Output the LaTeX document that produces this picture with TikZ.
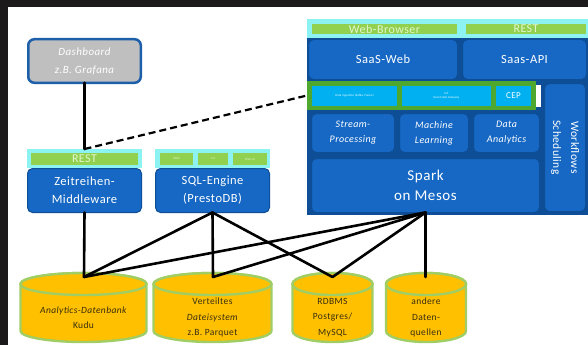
\documentclass[tikz,border=0pt]{standalone}
\usepackage{fontspec}
\setmainfont{Carlito}[LetterSpace=4]
\definecolor{bgdark}{RGB}{28,26,26}
\definecolor{boxblue}{RGB}{22,104,196}
\definecolor{deepblue}{RGB}{14,78,150}
\definecolor{bandcyan}{RGB}{140,242,242}
\definecolor{bargreen}{RGB}{146,208,80}
\definecolor{rowgreen}{RGB}{78,167,46}
\definecolor{lightcyan}{RGB}{0,176,240}
\definecolor{cylyellow}{RGB}{255,192,0}
\definecolor{cylgreen}{RGB}{160,205,100}
\definecolor{dashgray}{RGB}{191,191,191}
\definecolor{dashborder}{RGB}{30,95,170}
\definecolor{bartext}{RGB}{228,246,205}
\definecolor{cyltext}{RGB}{55,45,15}
\begin{document}
\begin{tikzpicture}[x=1pt,y=-1pt,
  every node/.style={inner sep=0pt, outer sep=0pt},
  bluebox/.style={draw=deepblue, line width=1pt, fill=boxblue, rounded corners=5pt, text=white, align=center},
  band/.style={fill=bandcyan},
  gbar/.style={fill=bargreen, text=bartext, align=center, font=\fontsize{12}{12}\selectfont},
  cbox/.style={fill=lightcyan, text=white, align=center},
  tiny/.style={font=\fontsize{3}{4}\selectfont},
  link/.style={line width=2.6pt, black, line cap=round},
  dlink/.style={line width=2.2pt, black, dash pattern=on 7pt off 4pt},
  cyl/.style={fill=cylyellow, draw=cylgreen, line width=2.4pt},
  cyllabel/.style={text=cyltext, align=center, font=\fontsize{9.5}{15.5}\selectfont}]
\useasboundingbox (0,0) rectangle (588,345);
\fill[bgdark] (0,0) rectangle (588,345);
\fill[white] (8,7) rectangle (588,345);

% Dashboard
\node[draw=dashborder, line width=2.5pt, fill=dashgray, rounded corners=6pt,
  minimum width=112.5, minimum height=43.5, text=white, align=center,
  font=\itshape\fontsize{11}{18}\selectfont] (dash) at (84.5,61) {Dashboard\\z.B. Grafana};

% Zeitreihen-Middleware
\node[band, minimum width=115, minimum height=19] (zrband) at (84.5,158.5) {};
\node[gbar, minimum width=107, minimum height=12] (zrbar) at (84.5,159) {REST};
\node[bluebox, minimum width=114, minimum height=44, font=\fontsize{12.5}{18}\selectfont] (zr) at (84.5,190.5) {Zeitreihen-\\Middleware};

% SQL-Engine
\node[band, minimum width=115, minimum height=19] (sqlband) at (212.5,158.5) {};
\node[gbar, tiny, minimum width=33, minimum height=12] (sqlb1) at (176.5,159) {JDBC};
\node[gbar, tiny, minimum width=30, minimum height=12] (sqlb2) at (213,159) {CLI};
\node[gbar, tiny, minimum width=34, minimum height=12] (sqlb3) at (250,159) {Web-UI};
\node[bluebox, minimum width=114, minimum height=44, font=\fontsize{12.5}{18}\selectfont] (sql) at (212.5,190.5) {SQL-Engine\\(PrestoDB)};

% Right platform
\node[band, minimum width=281, minimum height=19] (topband) at (447.5,28.5) {};
\node[gbar, minimum width=145, minimum height=10] (wb) at (384.5,29) {Web-Browser};
\node[gbar, minimum width=120, minimum height=10] (rest) at (526,29) {REST};
\node[fill=deepblue, minimum width=281, minimum height=177] (platform) at (447.5,126.5) {};
\node[bluebox, minimum width=149, minimum height=40, font=\fontsize{12.5}{14}\selectfont] (saasweb) at (383,59.5) {SaaS-Web};
\node[bluebox, minimum width=124, minimum height=40, font=\fontsize{12.5}{14}\selectfont] (saasapi) at (524.5,59.5) {Saas-API};
\node[fill=white, minimum width=5, minimum height=22] (gap) at (538.5,96) {};
\node[fill=rowgreen, minimum width=229, minimum height=29] (greenrow) at (421.5,95.5) {};
\node[cbox, tiny, minimum width=85, minimum height=20] (c1) at (354.5,96) {Data Ingestion (Kafka, Flume)};
\node[cbox, tiny, minimum width=89, minimum height=20] (c2) at (446.5,96) {IoT\\Event-Hub Gateway};
\node[cbox, font=\fontsize{9}{9}\selectfont, minimum width=35, minimum height=20] (c3) at (513.5,96) {CEP};
\node[bluebox, minimum width=83, minimum height=39, font=\itshape\fontsize{10}{15}\selectfont] (stream) at (353,133) {Stream-\\Processing};
\node[bluebox, minimum width=69, minimum height=39, font=\itshape\fontsize{10}{15}\selectfont] (ml) at (434,133) {Machine\\Learning};
\node[bluebox, minimum width=66, minimum height=39, font=\itshape\fontsize{10}{15}\selectfont] (da) at (506.5,133) {Data\\Analytics};
\node[bluebox, minimum width=228, minimum height=54, font=\fontsize{15}{20}\selectfont] (spark) at (425.5,185.5) {Spark\\on Mesos};
\node[bluebox, rotate=-90, minimum width=128, minimum height=41, font=\fontsize{11.5}{18}\selectfont] (wf) at (565,147.5) {Workflows\\Scheduling};

% Cylinders
\draw[cyl] (20.5,284) -- (20.5,331) arc[start angle=180, end angle=360, x radius=63pt, y radius=11pt] -- (146.5,284) arc[start angle=0, end angle=180, x radius=63pt, y radius=11pt] -- cycle;
\draw[cyl] (83.5,284) ellipse[x radius=63pt, y radius=11pt];
\draw[cyl] (153.5,284) -- (153.5,331) arc[start angle=180, end angle=360, x radius=59pt, y radius=11pt] -- (271.5,284) arc[start angle=0, end angle=180, x radius=59pt, y radius=11pt] -- cycle;
\draw[cyl] (212.5,284) ellipse[x radius=59pt, y radius=11pt];
\draw[cyl] (292.5,284) -- (292.5,331) arc[start angle=180, end angle=360, x radius=40pt, y radius=11pt] -- (372.5,284) arc[start angle=0, end angle=180, x radius=40pt, y radius=11pt] -- cycle;
\draw[cyl] (332.5,284) ellipse[x radius=40pt, y radius=11pt];
\draw[cyl] (386,284) -- (386,331) arc[start angle=180, end angle=360, x radius=40pt, y radius=11pt] -- (466,284) arc[start angle=0, end angle=180, x radius=40pt, y radius=11pt] -- cycle;
\draw[cyl] (426,284) ellipse[x radius=40pt, y radius=11pt];

\node[cyllabel] (kudu) at (83.5,317.5) {\textit{Analytics-Datenbank}\\Kudu};
\node[cyllabel] (vert) at (212.5,317.5) {Verteiltes\\\textit{Dateisystem}\\z.B. Parquet};
\node[cyllabel] (rdbms) at (332.5,317.5) {RDBMS\\Postgres/\\MySQL};
\node[cyllabel] (andere) at (426,317.5) {andere\\Daten-\\quellen};

\coordinate (kuduTop) at (84,277);
\coordinate (vertTop) at (213,277);
\coordinate (rdbmsTop) at (332.5,277);
\coordinate (andereTop) at (425.5,277);

% Connectors
\draw[link] (dash.south) -- (zrband.north);
\draw[dlink] (zrband.north) -- (greenrow.west);
\draw[link] (zr.south) -- (kuduTop);
\draw[link] (sql.south) -- (kuduTop);
\draw[link] (sql.south) -- (vertTop);
\draw[link] (sql.south) -- (rdbmsTop);
\draw[link] (spark.south) -- (kuduTop);
\draw[link] (spark.south) -- (vertTop);
\draw[link] (spark.south) -- (rdbmsTop);
\draw[link] (spark.south) -- (andereTop);
\end{tikzpicture}
\end{document}
